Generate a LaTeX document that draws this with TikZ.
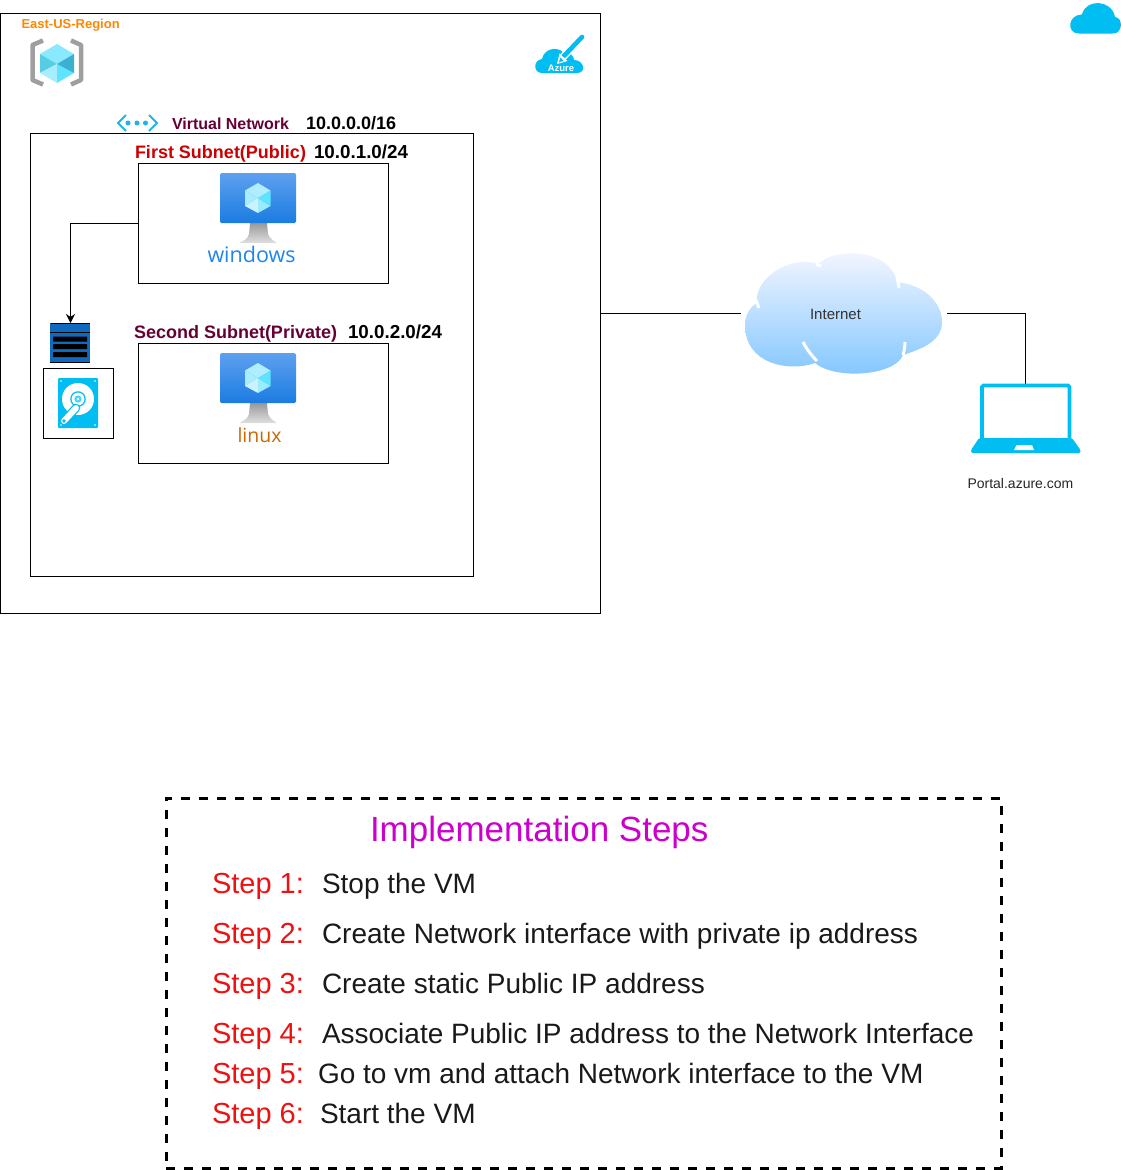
\documentclass[tikz,border=0pt]{standalone}
\usepackage{fontspec}
\setmainfont{Liberation Sans}
\newfontfamily\vmfont{Open Sans}
\usetikzlibrary{arrows.meta}
\definecolor{azcyan}{HTML}{00BEF2}
\definecolor{plum}{HTML}{660033}
\definecolor{nicblue}{HTML}{0F69BE}
\definecolor{stepred}{HTML}{EE1111}
\definecolor{vmtop}{HTML}{5EA0EF}
\definecolor{vmbot}{HTML}{1B7CE2}
\definecolor{cubetop}{HTML}{B0EEFF}
\definecolor{cubeleft}{HTML}{A8ECFF}
\definecolor{cubell}{HTML}{CBF3FF}
\definecolor{cubelr}{HTML}{9BEBFF}
\definecolor{cuberight}{HTML}{5FE4FF}
\definecolor{vnetcyan}{HTML}{1FB4E8}
\newcommand{\fs}[1]{\fontsize{#1}{#1}\selectfont}
\newcommand{\vmicon}[1]{%
 \begin{scope}[shift={(0,#1)}]
  \shade[top color=gray!80,bottom color=gray!25] (250,223)--(267,223)--(268,234) .. controls (270,239) and (274,241) .. (277,243)--(239,243) .. controls (243,241) and (248,239) .. (249,234)--cycle;
  \shade[rounded corners=1.5pt,top color=vmtop,bottom color=vmbot] (220,173) rectangle (296,223);
  \fill[cubetop] (258,183)--(270.5,190.5)--(258,198)--(245,190.5)--cycle;
  \fill[cubeleft] (245,190.5)--(258,198)--(245,206)--cycle;
  \fill[cubell] (245,206)--(258,198)--(258,213)--cycle;
  \fill[cubelr] (270.5,206)--(258,198)--(258,213)--cycle;
  \fill[cuberight] (270.5,190.5)--(258,198)--(270.5,206)--cycle;
 \end{scope}}
\tikzset{
 x=1pt,y=-1pt,
 box/.style={draw=black,line width=1pt,inner sep=0pt,outer sep=0pt,anchor=north west},
 ghost/.style={inner sep=0pt,outer sep=0pt},
 lbl/.style={inner sep=0pt,outer sep=0pt,anchor=base west},
 bold/.style={lbl,font=\fs{16}\bfseries},
 ipbold/.style={lbl,font=\fs{18.8}\bfseries,text=black},
 steplbl/.style={lbl,font=\fs{29},text=stepred},
 steptxt/.style={lbl,font=\fs{28},text=black!90},
 link/.style={draw=black,line width=1pt},
}
\begin{document}
\begin{tikzpicture}
\useasboundingbox (0,0) rectangle (1121,1170);
% containers
\node[box,minimum width=600pt,minimum height=600pt] (region) at (0.5,13.5) {};
\node[box,minimum width=443pt,minimum height=443pt] (vnet) at (30.5,133.5) {};
\node[box,minimum width=250pt,minimum height=120pt] (sub1) at (138.5,163.5) {};
\node[box,minimum width=250pt,minimum height=120pt] (sub2) at (138.5,343.5) {};
\node[box,minimum width=70pt,minimum height=70pt] (diskbox) at (43.5,368.5) {};
\node[ghost,minimum width=40pt,minimum height=40pt] (nic) at (70.5,343) {};
\node[ghost,minimum width=206pt,minimum height=120pt] (internet) at (844,313) {};
\node[ghost,minimum width=109pt,minimum height=70pt,anchor=north] (laptop) at (1025.5,384) {};
\node[draw=black,line width=3pt,dash pattern=on 9pt off 9pt,inner sep=0pt,outer sep=0pt,anchor=north west,minimum width=835pt,minimum height=370pt] (steps) at (166,798) {};
% connectors
\draw[link,-{Stealth[length=9pt,width=9pt]}] (sub1.west) -| (nic.north);
\draw[link] (region.east |- internet.west) -- (internet.west);
\draw[link] (internet.east) -| (laptop.north);
% labels
\node[lbl,font=\fs{13}\bfseries,text=orange!95!yellow] (tregion) at (21.5,28) {East-US-Region};
\node[bold,text=plum] (tvnet) at (172,129) {Virtual Network};
\node[lbl,font=\fs{18}\bfseries,text=black] (tvnetip) at (306,129) {10.0.0.0/16};
\node[lbl,font=\fs{18}\bfseries,text=red!80!black] (tsub1) at (135,158) {First Subnet(Public)};
\node[ipbold] (tsub1ip) at (314,158) {10.0.1.0/24};
\node[lbl,font=\fs{18}\bfseries,text=plum] (tsub2) at (134,338.5) {Second Subnet(Private)};
\node[ipbold] (tsub2ip) at (348,338.5) {10.0.2.0/24};
% resource group icon
\draw[line width=4.5pt,color=gray!75,line join=round] (43,40.5)--(32.5,45)--(32.5,80)--(43,84.5);
\draw[line width=4.5pt,color=gray!75,line join=round] (71,40.5)--(81,45)--(81,80)--(71,84.5);
\fill[color=cubetop!50!cuberight] (57,44)--(74,54)--(57,64)--(40,54)--cycle;
\fill[color=cuberight!90!black] (40,54)--(57,64)--(40,73)--cycle;
\fill[color=cubeleft] (40,73)--(57,64)--(57,83)--cycle;
\fill[color=cuberight] (57,64)--(57,83)--(74,73)--cycle;
\fill[color=cuberight!60!vnetcyan!85!black] (57,64)--(74,54)--(74,73)--cycle;
% azure cloud icon
\fill[azcyan] (542,73) .. controls (533,73) and (533,60) .. (542,59)
  .. controls (544,49) and (556,46) .. (563,52)
  .. controls (570,52) and (574,56) .. (574,60)
  .. controls (584,60) and (587,73) .. (577,73) -- cycle;
\draw[white,line width=7.5pt] (563,57)--(581,38);
\draw[azcyan,line width=4.6pt,line cap=round] (563,57)--(582,37);
\fill[white] (557,64)--(559.5,53.5)--(567.5,61)--cycle;
\fill[azcyan] (559,62.5)--(560.2,57.5)--(563.5,60.5)--cycle;
\node[inner sep=0pt,font=\fs{9.5}\bfseries,text=white] (tazure) at (561,68.5) {Azure};
% vnet icon
\draw[color=vnetcyan,line width=2pt] (126,115)--(118,123)--(126,131);
\draw[color=vnetcyan,line width=2pt] (149,115)--(157,123)--(149,131);
\fill[color=vnetcyan] (128,123) circle (2.5) (137,123) circle (2.5) (145.5,123) circle (2.5);
% VM icons
\vmicon{0}
\vmicon{180}
\node[lbl,font=\vmfont\fs{21.5},text={rgb,255:red,28;green,134;blue,238}] (twin) at (207.5,262) {windows};
\node[lbl,font=\vmfont\fs{19.5},text=orange!80!black] (tlin) at (237.5,442) {linux};
% NIC icon
\fill[nicblue] (50,323) rectangle (90,363);
\draw[black,line width=1.5pt] (50.5,323.5)--(89.5,323.5) (50,332.5)--(90,332.5) (50,362.5)--(90,362.5);
\fill[black] (53,336.5) rectangle (87,341.5) (53,344) rectangle (87,349) (53,352) rectangle (87,357);
% disk icon
\fill[azcyan,rounded corners=1pt] (58,378) rectangle (98,428);
\fill[white] (78,399) circle (16);
\fill[azcyan] (78,399) circle (7.8);
\fill[white] (78,399) circle (6.4);
\fill[azcyan!70] (78,399) circle (3.6);
\fill[white] (78,399) circle (1.4);
\fill[white] (61,381) circle (.8) (95,381) circle (.8) (61,425) circle (.8) (95,425) circle (.8);
\draw[azcyan,line width=8.5pt,line cap=round] (76,408)--(64,421);
\draw[white,line width=6pt,line cap=round] (76,408)--(64,421);
\fill[azcyan] (64,421) circle (1.8);
% internet cloud
\shade[top color=blue!3!white,bottom color=blue!45!cyan!50!white]
 (745,325) .. controls (745,315) and (750,307) .. (757,303)
 .. controls (754,278) and (790,255) .. (818,264)
 .. controls (835,247) and (890,248) .. (897,282)
 .. controls (925,285) and (942,303) .. (942,322)
 .. controls (942,340) and (925,348) .. (903,355)
 .. controls (895,376) and (835,380) .. (815,363)
 .. controls (790,372) and (745,365) .. (745,325) -- cycle;
\draw[white,line width=3pt] (756,300)--(759,308) (816,264)--(821,266) (897,279) .. controls (898,282) and (899,285) .. (899,288)
 (905,342) .. controls (905,347) and (904,351) .. (903,355)
 (803,342) .. controls (806,348) and (811,355) .. (817,361);
\node[inner sep=0pt,font=\fs{15},text=black!80] (tnet) at (835.5,314) {Internet};
% laptop
\draw[azcyan,line width=3.6pt,rounded corners=1.5pt] (982,439)--(982,385.5)--(1069.5,385.5)--(1069.5,439);
\fill[azcyan,rounded corners=1.5pt] (979,438)--(1072,438)--(1080.5,450)--(1080.5,453)--(971,453)--(971,450)--cycle;
\fill[white] (1016.5,445)--(1032,445)--(1034,450)--(1014,450)--cycle;
\node[lbl,font=\fs{14},text=black!85] (tportal) at (967.5,488) {Portal.azure.com};
% top right cloud
\fill[azcyan,rounded corners=.5pt] (1079,33.5) .. controls (1066,33) and (1068,15) .. (1082,14.5)
 .. controls (1086,-1) and (1111,-1) .. (1115,17)
 .. controls (1123,18) and (1123,33) .. (1113,33.5) -- cycle;
% steps
\node[lbl,font=\fs{35},text={rgb,255:red,204;green,0;blue,204}] (timpl) at (370,841) {Implementation Steps};
\node[steplbl] (s1) at (212,893) {Step 1:};
\node[steptxt] (x1) at (322,893) {Stop the VM};
\node[steplbl] (s2) at (212,943) {Step 2:};
\node[steptxt] (x2) at (322,943) {Create Network interface with private ip address};
\node[steplbl] (s3) at (212,993) {Step 3:};
\node[steptxt] (x3) at (322,993) {Create static Public IP address};
\node[steplbl] (s4) at (212,1043) {Step 4:};
\node[steptxt] (x4) at (322,1043) {Associate Public IP address to the Network Interface};
\node[steplbl] (s5) at (212,1083) {Step 5:};
\node[steptxt] (x5) at (318,1083) {Go to vm and attach Network interface to the VM};
\node[steplbl] (s6) at (212,1123) {Step 6:};
\node[steptxt] (x6) at (320,1123) {Start the VM};
\end{tikzpicture}
\end{document}
